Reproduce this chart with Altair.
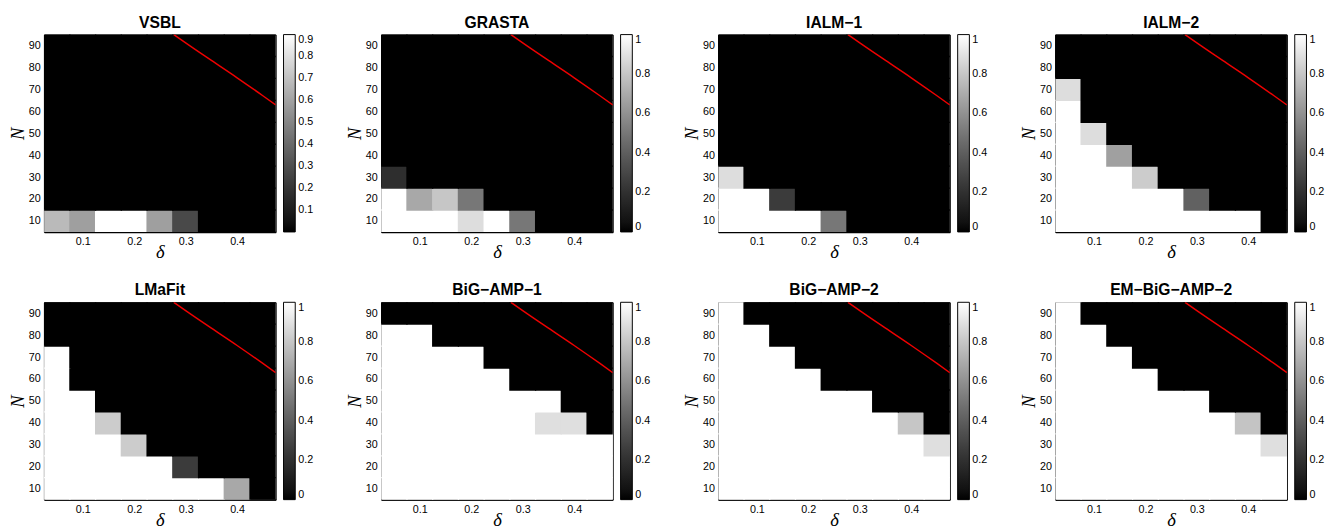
import altair as alt
import pandas as pd

deltas = [0.05, 0.10, 0.15, 0.20, 0.25, 0.30, 0.35, 0.40, 0.45]
Ns = [10, 20, 30, 40, 50, 60, 70, 80, 90]

# each matrix: rows N = 10 ... 90 (bottom to top), columns delta = 0.05 ... 0.45
vsbl = [
    [0.68, 0.59, 0.90, 0.90, 0.59, 0.28, 0, 0, 0],
    [0, 0, 0, 0, 0, 0, 0, 0, 0],
    [0, 0, 0, 0, 0, 0, 0, 0, 0],
    [0, 0, 0, 0, 0, 0, 0, 0, 0],
    [0, 0, 0, 0, 0, 0, 0, 0, 0],
    [0, 0, 0, 0, 0, 0, 0, 0, 0],
    [0, 0, 0, 0, 0, 0, 0, 0, 0],
    [0, 0, 0, 0, 0, 0, 0, 0, 0],
    [0, 0, 0, 0, 0, 0, 0, 0, 0],
]
grasta = [
    [1, 1, 1, 0.88, 1, 0.50, 0, 0, 0],
    [1, 0.69, 0.80, 0.50, 0, 0, 0, 0, 0],
    [0.19, 0, 0, 0, 0, 0, 0, 0, 0],
    [0, 0, 0, 0, 0, 0, 0, 0, 0],
    [0, 0, 0, 0, 0, 0, 0, 0, 0],
    [0, 0, 0, 0, 0, 0, 0, 0, 0],
    [0, 0, 0, 0, 0, 0, 0, 0, 0],
    [0, 0, 0, 0, 0, 0, 0, 0, 0],
    [0, 0, 0, 0, 0, 0, 0, 0, 0],
]
ialm1 = [
    [1, 1, 1, 1, 0.50, 0, 0, 0, 0],
    [1, 1, 0.25, 0, 0, 0, 0, 0, 0],
    [0.88, 0, 0, 0, 0, 0, 0, 0, 0],
    [0, 0, 0, 0, 0, 0, 0, 0, 0],
    [0, 0, 0, 0, 0, 0, 0, 0, 0],
    [0, 0, 0, 0, 0, 0, 0, 0, 0],
    [0, 0, 0, 0, 0, 0, 0, 0, 0],
    [0, 0, 0, 0, 0, 0, 0, 0, 0],
    [0, 0, 0, 0, 0, 0, 0, 0, 0],
]
ialm2 = [
    [1, 1, 1, 1, 1, 1, 1, 1, 0],
    [1, 1, 1, 1, 1, 0.41, 0, 0, 0],
    [1, 1, 1, 0.82, 0, 0, 0, 0, 0],
    [1, 1, 0.66, 0, 0, 0, 0, 0, 0],
    [1, 0.88, 0, 0, 0, 0, 0, 0, 0],
    [1, 0, 0, 0, 0, 0, 0, 0, 0],
    [0.88, 0, 0, 0, 0, 0, 0, 0, 0],
    [0, 0, 0, 0, 0, 0, 0, 0, 0],
    [0, 0, 0, 0, 0, 0, 0, 0, 0],
]
lmafit = [
    [1, 1, 1, 1, 1, 1, 1, 0.69, 0],
    [1, 1, 1, 1, 1, 0.25, 0, 0, 0],
    [1, 1, 1, 0.82, 0, 0, 0, 0, 0],
    [1, 1, 0.82, 0, 0, 0, 0, 0, 0],
    [1, 1, 0, 0, 0, 0, 0, 0, 0],
    [1, 0, 0, 0, 0, 0, 0, 0, 0],
    [1, 0, 0, 0, 0, 0, 0, 0, 0],
    [0, 0, 0, 0, 0, 0, 0, 0, 0],
    [0, 0, 0, 0, 0, 0, 0, 0, 0],
]
bigamp1 = [
    [1, 1, 1, 1, 1, 1, 1, 1, 1],
    [1, 1, 1, 1, 1, 1, 1, 1, 1],
    [1, 1, 1, 1, 1, 1, 1, 1, 1],
    [1, 1, 1, 1, 1, 1, 0.89, 0.89, 0],
    [1, 1, 1, 1, 1, 1, 1, 0, 0],
    [1, 1, 1, 1, 1, 0, 0, 0, 0],
    [1, 1, 1, 1, 0, 0, 0, 0, 0],
    [1, 1, 0, 0, 0, 0, 0, 0, 0],
    [0, 0, 0, 0, 0, 0, 0, 0, 0],
]
bigamp2 = [
    [1, 1, 1, 1, 1, 1, 1, 1, 1],
    [1, 1, 1, 1, 1, 1, 1, 1, 1],
    [1, 1, 1, 1, 1, 1, 1, 1, 0.89],
    [1, 1, 1, 1, 1, 1, 1, 0.80, 0],
    [1, 1, 1, 1, 1, 1, 0, 0, 0],
    [1, 1, 1, 1, 0, 0, 0, 0, 0],
    [1, 1, 1, 0, 0, 0, 0, 0, 0],
    [1, 1, 0, 0, 0, 0, 0, 0, 0],
    [1, 0, 0, 0, 0, 0, 0, 0, 0],
]
embigamp2 = [
    [1, 1, 1, 1, 1, 1, 1, 1, 1],
    [1, 1, 1, 1, 1, 1, 1, 1, 1],
    [1, 1, 1, 1, 1, 1, 1, 1, 0.89],
    [1, 1, 1, 1, 1, 1, 1, 0.79, 0],
    [1, 1, 1, 1, 1, 1, 0, 0, 0],
    [1, 1, 1, 1, 0, 0, 0, 0, 0],
    [1, 1, 1, 0, 0, 0, 0, 0, 0],
    [1, 1, 0, 0, 0, 0, 0, 0, 0],
    [1, 0, 0, 0, 0, 0, 0, 0, 0],
]

titles = ["VSBL", "GRASTA", "IALM\u22121", "IALM\u22122",
          "LMaFit", "BiG\u2212AMP\u22121", "BiG\u2212AMP\u22122", "EM\u2212BiG\u2212AMP\u22122"]
matrices = [vsbl, grasta, ialm1, ialm2, lmafit, bigamp1, bigamp2, embigamp2]
color_max = [0.9, 1, 1, 1, 1, 1, 1, 1]
legend_ticks_vsbl = [0.1, 0.2, 0.3, 0.4, 0.5, 0.6, 0.7, 0.8, 0.9]
legend_ticks = [0, 0.2, 0.4, 0.6, 0.8, 1]

# red phase-transition curve
line_delta = [0.277, 0.30, 0.35, 0.40, 0.45, 0.475]
line_N = [95.0, 91.2, 83.2, 75.3, 67.1, 62.9]

x_ticks = [0.1, 0.2, 0.3, 0.4]
y_ticks = [10, 20, 30, 40, 50, 60, 70, 80, 90]

W, H = 237, 202
# half cell extents, with a hair of overlap so neighbouring cells leave no seam
half_dx, half_dy = 0.0262, 5.3


def panel(title, mat, cmax, ticks):
    rows = []
    for i, n in enumerate(Ns):
        for j, d in enumerate(deltas):
            rows.append({"delta": d, "N": n, "value": mat[i][j]})
    df = pd.DataFrame(rows)
    xs = alt.Scale(domain=[0.025, 0.475], nice=False, zero=False)
    ys = alt.Scale(domain=[5, 95], nice=False, zero=False)
    cs = alt.Scale(domain=[0, cmax], range=["#000000", "#ffffff"])
    xaxis = alt.Axis(values=x_ticks, format=".1f", labelOverlap=False,
                     grid=False, ticks=False, titlePadding=-4)
    yaxis = alt.Axis(values=y_ticks, format="d", labelOverlap=False,
                     grid=False, ticks=False)
    heat = alt.Chart(df).transform_calculate(
        x0=f"datum.delta - {half_dx}", x1=f"datum.delta + {half_dx}",
        y0=f"datum.N - {half_dy}", y1=f"datum.N + {half_dy}",
    ).mark_rect(strokeWidth=0, clip=True).encode(
        x=alt.X("x0:Q", scale=xs, title="\u03b4", axis=xaxis),
        x2="x1:Q",
        y=alt.Y("y0:Q", scale=ys, title="N", axis=yaxis),
        y2="y1:Q",
        color=alt.Color("value:Q", scale=cs,
                        legend=alt.Legend(values=ticks, format="~g", title=None,
                                          type="gradient",
                                          gradientLength=H, gradientThickness=12,
                                          offset=8, labelFontSize=11,
                                          labelFont="Liberation Sans",
                                          labelColor="#000000",
                                          gradientStrokeColor="#000000",
                                          gradientStrokeWidth=1,
                                          labelOverlap=False, labelOffset=3)),
    )
    ld = pd.DataFrame({"delta": line_delta, "N": line_N})
    line = alt.Chart(ld).mark_line(color="#ee0000", strokeWidth=1.5,
                                   interpolate="monotone", clip=True).encode(
        x=alt.X("delta:Q", scale=xs, title="\u03b4", axis=xaxis),
        y=alt.Y("N:Q", scale=ys, title="N", axis=yaxis),
    )
    return alt.layer(heat, line).properties(
        width=W, height=H,
        title=alt.TitleParams(title, fontSize=16, fontWeight="bold",
                              font="Liberation Sans", frame="group",
                              anchor="middle", offset=4, color="#000000"),
    ).resolve_scale(color="independent")


charts = []
for k in range(8):
    t = legend_ticks_vsbl if k == 0 else legend_ticks
    charts.append(panel(titles[k], matrices[k], color_max[k], t))

row1 = alt.hconcat(*charts[:4], spacing=31).resolve_scale(color="independent")
row2 = alt.hconcat(*charts[4:], spacing=31).resolve_scale(color="independent")

chart = alt.vconcat(row1, row2, spacing=20).resolve_scale(
    color="independent"
).properties(
    background="#ffffff",
    padding={"left": 0, "top": 0, "right": 0, "bottom": 0},
).configure_view(
    stroke="#000000", strokeWidth=1
).configure_axis(
    labelFont="Liberation Sans", labelFontSize=11, labelColor="#000000",
    titleFont="Liberation Serif", titleFontStyle="italic", titleFontWeight="normal",
    titleFontSize=19, titleColor="#000000", ticks=False, labelPadding=4,
    domainColor="#000000", domainWidth=1.5, grid=False, titlePadding=1,
    labelOverlap=False,
)

chart.save("out.html", embed_options={"renderer": "svg", "actions": False})
